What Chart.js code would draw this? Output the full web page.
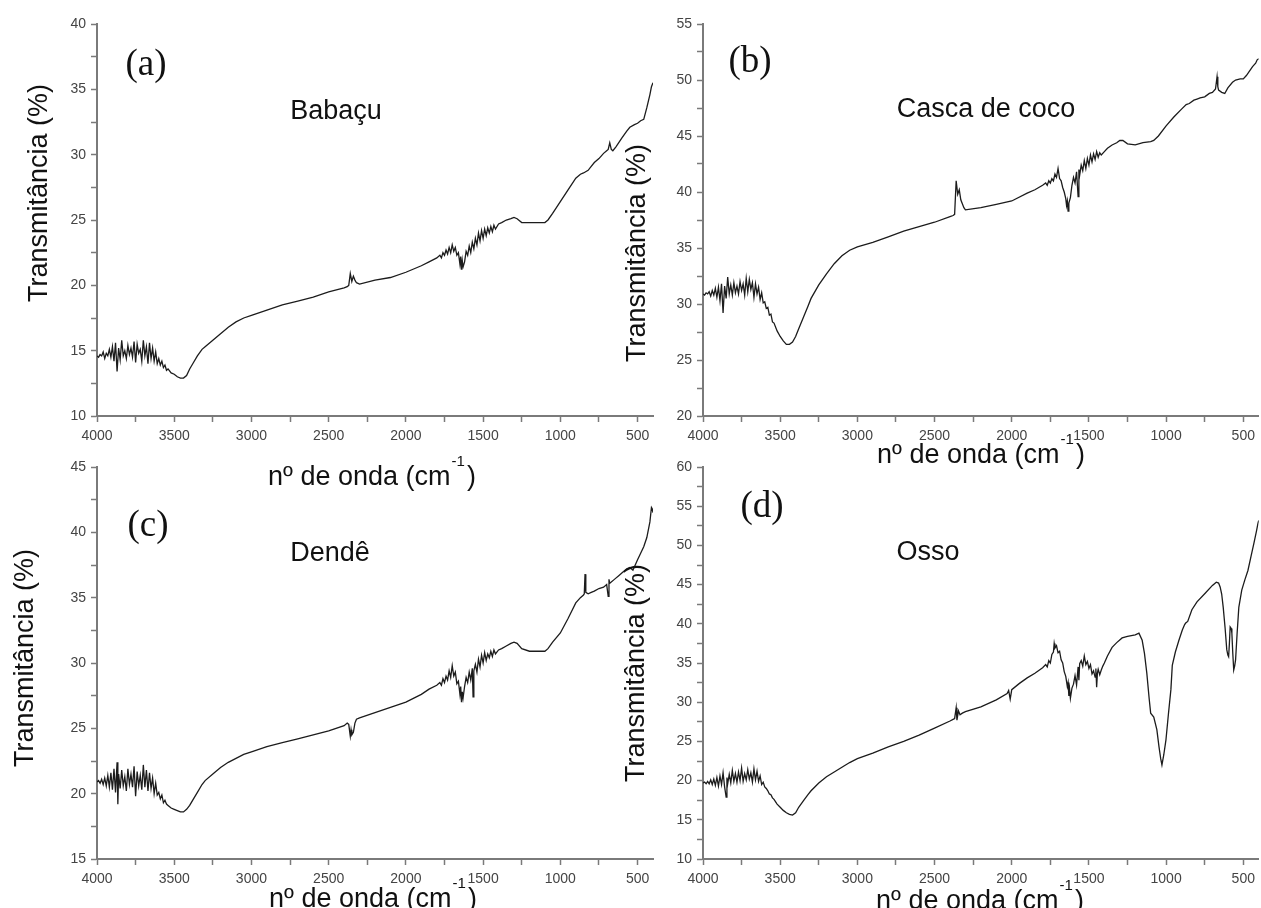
<!DOCTYPE html>
<html>
<head>
<meta charset="utf-8">
<script src="https://cdn.jsdelivr.net/npm/chart.js@4.4.1/dist/chart.umd.min.js"></script>
<style>
  html, body { margin:0; padding:0; background:#fff; }
  body { width:1261px; height:908px; position:relative; overflow:hidden; }
  canvas { position:absolute; }
</style>
</head>
<body>
<canvas id="chartA" width="660" height="500" style="left:0px;top:0px"></canvas>
<canvas id="chartB" width="661" height="500" style="left:600px;top:0px"></canvas>
<canvas id="chartC" width="660" height="468" style="left:0px;top:440px"></canvas>
<canvas id="chartD" width="661" height="468" style="left:600px;top:440px"></canvas>
<script>
// FTIR spectra: [wavenumber cm-1, transmittance %]
const babacu = [
  [4000,14.6],[3990,14.5],[3980,14.7],[3970,14.6],[3960,14.9],[3950,14.4],[3940,14.8],[3930,14.6],[3920,15.1],[3910,14.5],
  [3900,15.3],[3890,14.2],[3880,15.6],[3870,13.4],[3860,15.2],[3850,14.3],[3840,15.8],[3830,14.6],[3820,15.0],[3810,14.4],
  [3800,15.4],[3790,14.7],[3780,15.2],[3770,14.5],[3760,15.7],[3750,14.1],[3740,15.5],[3730,14.8],[3720,15.1],[3710,14.2],
  [3700,15.8],[3690,14.6],[3680,15.3],[3670,14.0],[3660,15.6],[3650,14.4],[3640,15.2],[3630,14.2],[3620,14.9],[3610,14.0],
  [3600,14.4],[3590,13.9],[3580,14.2],[3570,13.7],[3560,13.9],[3550,13.5],[3540,13.6],[3520,13.3],[3500,13.2],[3480,13.0],
  [3460,12.9],[3440,12.9],[3420,13.1],[3400,13.6],[3380,14.0],[3350,14.6],[3320,15.1],[3300,15.3],[3250,15.8],[3200,16.3],
  [3150,16.8],[3100,17.2],[3050,17.5],[3000,17.7],[2900,18.1],[2800,18.5],[2700,18.8],[2600,19.1],[2500,19.5],[2400,19.8],
  [2380,19.9],[2370,20.0],[2360,20.9],[2350,20.3],[2340,20.7],[2330,20.4],[2320,20.2],[2300,20.1],[2200,20.4],[2100,20.6],
  [2000,21.0],[1900,21.5],[1850,21.8],[1800,22.1],[1780,22.3],[1770,22.1],[1760,22.5],[1750,22.3],[1740,22.7],[1730,22.4],
  [1720,22.9],[1710,22.5],[1700,23.1],[1690,22.6],[1680,22.9],[1670,22.3],[1660,22.5],[1650,21.6],[1645,22.2],[1640,21.2],
  [1635,21.9],[1630,21.4],[1620,21.8],[1610,22.6],[1600,22.3],[1590,23.0],[1580,22.5],[1570,23.3],[1560,22.8],[1550,23.6],
  [1540,23.1],[1530,24.0],[1520,23.4],[1510,24.2],[1500,23.6],[1490,24.3],[1480,23.8],[1470,24.4],[1460,24.0],[1450,24.5],
  [1440,24.1],[1430,24.6],[1420,24.3],[1400,24.7],[1380,24.8],[1350,25.0],[1320,25.1],[1300,25.2],[1280,25.1],[1250,24.8],
  [1200,24.8],[1150,24.8],[1100,24.8],[1080,25.0],[1050,25.5],[1000,26.4],[950,27.3],[900,28.2],[870,28.5],[850,28.6],
  [820,28.8],[800,29.1],[780,29.4],[750,29.7],[720,30.1],[700,30.3],[690,30.4],[680,30.9],[670,30.4],[660,30.3],
  [640,30.6],[600,31.3],[570,31.8],[550,32.1],[520,32.3],[500,32.4],[480,32.6],[460,32.7],[440,33.6],[420,34.6],
  [410,35.2],[400,35.5]
];
const cascaCoco = [
  [4000,30.9],[3990,30.8],[3980,31.0],[3970,30.9],[3960,31.1],[3950,30.7],[3940,31.2],[3930,30.8],[3920,31.4],[3910,30.6],
  [3900,31.5],[3890,30.3],[3880,31.8],[3870,29.2],[3860,31.6],[3850,30.5],[3840,32.4],[3830,30.9],[3820,31.7],[3810,30.8],
  [3800,31.9],[3790,31.0],[3780,31.6],[3770,30.9],[3760,32.0],[3750,31.2],[3740,31.8],[3730,30.8],[3720,32.3],[3710,31.1],
  [3700,32.2],[3690,31.3],[3680,31.9],[3670,30.6],[3660,31.8],[3650,30.9],[3640,31.5],[3630,30.4],[3620,31.0],[3610,30.1],
  [3600,30.2],[3590,29.6],[3580,29.7],[3570,29.0],[3560,29.1],[3550,28.4],[3540,28.3],[3520,27.6],[3500,27.1],[3480,26.7],
  [3460,26.4],[3440,26.4],[3420,26.6],[3400,27.1],[3380,27.8],[3350,28.8],[3320,29.8],[3300,30.5],[3250,31.7],[3200,32.7],
  [3150,33.6],[3100,34.3],[3050,34.8],[3000,35.1],[2900,35.5],[2800,36.0],[2700,36.5],[2600,36.9],[2500,37.3],[2400,37.8],
  [2380,37.9],[2370,38.0],[2360,41.0],[2350,39.8],[2340,40.2],[2330,39.3],[2310,38.6],[2300,38.4],[2200,38.6],[2100,38.9],
  [2000,39.2],[1900,39.9],[1850,40.2],[1800,40.6],[1780,40.8],[1770,40.6],[1760,41.0],[1750,40.8],[1740,41.2],[1730,41.0],
  [1720,41.6],[1710,41.3],[1700,42.1],[1690,41.2],[1680,41.0],[1670,40.4],[1660,40.0],[1650,39.4],[1645,38.8],[1640,39.2],
  [1635,38.3],[1630,39.0],[1620,39.5],[1610,40.6],[1600,41.3],[1590,40.8],[1580,41.8],[1570,39.6],[1565,42.0],[1560,41.5],
  [1550,42.4],[1540,41.9],[1530,42.8],[1520,42.1],[1510,43.0],[1500,42.4],[1490,43.3],[1480,42.7],[1470,43.4],[1460,42.9],
  [1450,43.6],[1440,43.1],[1430,43.5],[1420,43.3],[1400,43.6],[1380,43.9],[1350,44.2],[1320,44.4],[1300,44.6],[1280,44.6],
  [1250,44.3],[1200,44.2],[1150,44.4],[1100,44.5],[1080,44.6],[1050,45.0],[1000,45.9],[950,46.7],[900,47.4],[870,47.8],
  [850,47.9],[820,48.2],[800,48.3],[780,48.4],[750,48.5],[720,48.8],[700,48.9],[680,49.2],[670,50.3],[665,49.4],
  [660,49.1],[640,48.9],[620,48.8],[600,49.3],[570,49.8],[550,50.0],[520,50.1],[500,50.1],[480,50.4],[460,50.8],
  [440,51.2],[420,51.5],[410,51.8],[400,51.9]
];
const dende = [
  [4000,20.9],[3990,21.0],[3980,20.8],[3970,21.1],[3960,20.7],[3950,21.2],[3940,20.6],[3930,21.4],[3920,20.5],[3910,21.6],
  [3900,20.3],[3890,21.9],[3880,20.1],[3870,22.4],[3865,19.2],[3860,21.5],[3850,20.4],[3840,21.8],[3830,20.6],[3820,21.3],
  [3810,20.2],[3800,21.9],[3790,20.7],[3780,21.5],[3770,20.5],[3760,22.1],[3750,19.8],[3740,21.7],[3730,20.6],[3720,21.4],
  [3710,20.3],[3700,22.2],[3690,20.5],[3680,21.8],[3670,20.2],[3660,21.6],[3650,20.4],[3640,21.2],[3630,20.0],[3620,20.8],
  [3610,19.9],[3600,20.1],[3590,19.6],[3580,19.9],[3570,19.3],[3560,19.5],[3550,19.2],[3540,19.1],[3520,18.9],[3500,18.8],
  [3480,18.7],[3460,18.6],[3440,18.6],[3420,18.8],[3400,19.1],[3380,19.5],[3350,20.1],[3320,20.7],[3300,21.0],[3250,21.5],
  [3200,22.0],[3150,22.4],[3100,22.7],[3050,23.0],[3000,23.2],[2900,23.6],[2800,23.9],[2700,24.2],[2600,24.5],[2500,24.8],
  [2400,25.2],[2380,25.4],[2370,25.3],[2360,24.4],[2355,24.9],[2350,24.5],[2340,24.7],[2330,25.4],[2320,25.7],[2300,25.8],
  [2200,26.2],[2100,26.6],[2000,27.0],[1900,27.6],[1850,28.0],[1800,28.3],[1780,28.5],[1770,28.3],[1760,28.8],[1750,28.5],
  [1740,29.0],[1730,28.7],[1720,29.4],[1710,28.9],[1700,29.8],[1690,29.0],[1680,29.3],[1670,28.4],[1660,28.6],[1650,27.6],
  [1645,28.2],[1640,27.0],[1635,27.8],[1630,27.3],[1620,28.2],[1610,28.9],[1600,28.5],[1590,29.3],[1580,28.7],[1570,29.6],
  [1565,27.4],[1560,29.4],[1550,29.9],[1540,29.3],[1530,30.3],[1520,29.7],[1510,30.6],[1500,30.0],[1490,30.8],[1480,30.2],
  [1470,30.7],[1460,30.4],[1450,30.9],[1440,30.5],[1430,31.0],[1420,30.7],[1400,31.0],[1380,31.1],[1350,31.3],[1320,31.5],
  [1300,31.6],[1280,31.5],[1250,31.1],[1200,30.9],[1150,30.9],[1100,30.9],[1080,31.1],[1050,31.6],[1000,32.3],[950,33.4],
  [900,34.6],[870,35.0],[850,35.2],[845,35.3],[840,36.8],[835,35.4],[820,35.3],[800,35.4],[780,35.5],[750,35.7],
  [720,35.8],[700,36.0],[690,35.1],[685,36.4],[680,36.1],[650,36.4],[620,36.7],[600,36.9],[570,37.2],[550,37.3],
  [530,37.1],[500,37.9],[480,38.4],[460,38.9],[440,39.6],[420,40.8],[410,41.9],[405,41.8],[400,41.5]
];
const osso = [
  [4000,19.7],[3990,19.8],[3980,19.6],[3970,19.9],[3960,19.6],[3950,20.1],[3940,19.5],[3930,20.2],[3920,19.4],[3910,20.4],
  [3900,19.3],[3890,20.6],[3880,19.5],[3870,21.0],[3860,19.2],[3850,17.9],[3845,20.4],[3840,19.6],[3830,20.8],[3820,19.7],
  [3810,21.3],[3800,19.9],[3790,20.9],[3780,19.8],[3770,21.1],[3760,20.0],[3750,21.6],[3740,19.9],[3730,20.9],[3720,20.1],
  [3710,21.4],[3700,20.2],[3690,21.0],[3680,19.8],[3670,21.5],[3660,20.1],[3650,21.2],[3640,19.9],[3630,20.6],[3620,19.5],
  [3610,19.8],[3600,19.2],[3590,19.0],[3580,18.7],[3570,18.3],[3560,18.2],[3550,17.8],[3540,17.6],[3520,17.0],[3500,16.6],
  [3480,16.2],[3460,15.9],[3440,15.7],[3420,15.6],[3400,15.9],[3380,16.6],[3350,17.4],[3320,18.2],[3300,18.7],[3250,19.7],
  [3200,20.5],[3150,21.1],[3100,21.7],[3050,22.3],[3000,22.8],[2900,23.5],[2800,24.3],[2700,25.0],[2600,25.8],[2500,26.7],
  [2400,27.6],[2380,27.8],[2370,27.9],[2360,29.3],[2355,27.7],[2345,28.9],[2335,28.4],[2320,28.6],[2300,28.8],[2200,29.4],
  [2100,30.3],[2030,31.1],[2020,31.5],[2010,30.4],[2000,31.6],[1950,32.4],[1900,33.1],[1850,33.7],[1800,34.4],[1780,34.8],
  [1770,34.5],[1760,35.3],[1750,35.0],[1740,36.1],[1730,36.4],[1725,37.5],[1720,36.9],[1710,37.2],[1700,36.3],[1690,36.5],
  [1680,35.4],[1670,35.0],[1660,33.9],[1650,33.3],[1640,32.0],[1635,32.5],[1630,30.8],[1625,31.6],[1620,30.5],[1610,31.8],
  [1600,32.3],[1590,33.4],[1580,32.2],[1570,34.5],[1565,32.8],[1560,34.9],[1550,35.3],[1540,34.6],[1530,35.9],[1520,34.8],
  [1510,35.2],[1500,34.3],[1490,34.8],[1480,33.6],[1470,34.0],[1460,33.2],[1455,34.3],[1450,31.9],[1445,33.7],[1440,34.2],
  [1430,33.5],[1420,34.1],[1410,34.6],[1400,35.0],[1380,35.9],[1350,37.0],[1320,37.6],[1285,38.2],[1250,38.4],[1200,38.6],
  [1176,38.8],[1155,37.9],[1140,36.2],[1125,33.7],[1110,30.5],[1100,28.6],[1080,28.1],[1060,26.5],[1046,24.3],[1035,22.8],
  [1027,22.0],[1015,23.3],[1001,25.2],[985,28.5],[969,31.6],[960,34.7],[940,36.4],[917,37.9],[895,39.2],[880,39.9],
  [873,40.1],[860,40.3],[833,41.8],[800,42.8],[747,43.9],[700,44.9],[675,45.3],[660,45.2],[650,44.7],[640,43.8],
  [630,42.1],[618,39.5],[607,36.7],[600,36.0],[595,35.8],[590,37.5],[585,39.6],[578,39.4],[574,38.8],[568,36.2],
  [562,34.1],[556,34.6],[550,35.4],[540,38.8],[529,42.1],[510,44.3],[490,45.6],[470,46.8],[450,48.6],[430,50.4],
  [415,51.8],[405,52.8],[400,53.2]
];

const waveRange = [4000, 400];
const yRanges = { a:[10,40], b:[20,55], c:[15,45], d:[10,60] };
const sampleNames = { a:'Babaçu', b:'Casca de coco', c:'Dendê', d:'Osso' };
const yTitle = 'Transmitância (%)';
const xTitle = 'nº de onda (cm';

// layout: canvas offset in page, chart area edges, text centres (page px)
const panels = [
  { key:'a', id:'chartA', spec:babacu, left:0, top:0, w:660, h:500,
    area:{l:97, t:24, r:653, b:416},
    letter:[146,65], name:[336,112], yT:[40,193], xT:[372,478] },
  { key:'b', id:'chartB', spec:cascaCoco, left:600, top:0, w:661, h:500,
    area:{l:703, t:24, r:1260, b:416},
    letter:[750,62], name:[986,110], yT:[638,253], xT:[981,456] },
  { key:'c', id:'chartC', spec:dende, left:0, top:440, w:660, h:468,
    area:{l:97, t:467, r:653, b:859},
    letter:[148,526], name:[330,554], yT:[26,658], xT:[373,900] },
  { key:'d', id:'chartD', spec:osso, left:600, top:440, w:661, h:468,
    area:{l:703, t:467, r:1260, b:859},
    letter:[762,507], name:[928,553], yT:[637,673], xT:[980,902] }
];

const SANS = "'Liberation Sans', Arial, sans-serif";
const AXIS = '#7a7a7a';

const panelText = {
  id:'panelText',
  afterDraw(chart){
    const p = chart.options.plugins.panelText;
    const ctx = chart.ctx;
    const ox = p.left, oy = p.top;
    ctx.save();
    ctx.fillStyle = '#111';
    ctx.textBaseline = 'middle';
    ctx.textAlign = 'center';

    ctx.font = "37px 'Liberation Serif', 'Times New Roman', serif";
    ctx.fillText('(' + p.key + ')', p.letter[0]-ox, p.letter[1]-oy);

    ctx.font = '27px ' + SANS;
    ctx.fillText(sampleNames[p.key], p.name[0]-ox, p.name[1]-oy);

    ctx.save();
    ctx.translate(p.yT[0]-ox, p.yT[1]-oy);
    ctx.rotate(-Math.PI/2);
    ctx.font = '27px ' + SANS;
    ctx.fillText(yTitle, 0, 0);
    ctx.restore();

    // x title with superscript -1
    ctx.font = '27px ' + SANS;
    const w1 = ctx.measureText(xTitle).width;
    const w3 = ctx.measureText(')').width;
    ctx.font = '15px ' + SANS;
    const w2 = ctx.measureText('-1').width;
    const x0 = p.xT[0]-ox - (w1+w2+w3+3)/2, y0 = p.xT[1]-oy;
    ctx.textAlign = 'left';
    ctx.font = '27px ' + SANS;
    ctx.fillText(xTitle, x0, y0);
    ctx.fillText(')', x0+w1+w2+3, y0);
    ctx.font = '15px ' + SANS;
    ctx.fillText('-1', x0+w1+1, y0-16);
    ctx.restore();
  }
};

function makeChart(p){
  const a = p.area;
  const yr = yRanges[p.key];
  new Chart(document.getElementById(p.id), {
    type:'line',
    data:{ datasets:[{
      data:p.spec.map(d => ({x:d[0], y:d[1]})),
      borderColor:'#1c1c1c',
      borderWidth:1.3,
      pointRadius:0,
      tension:0,
      fill:false
    }]},
    options:{
      responsive:false, animation:false, events:[],
      layout:{ padding:{ left:0, top:a.t-p.top, right:p.left+p.w-a.r, bottom:0 } },
      plugins:{ legend:{display:false}, tooltip:{enabled:false}, panelText:p },
      scales:{
        x:{
          type:'linear', reverse:true, min:waveRange[1], max:waveRange[0],
          afterFit:s => { s.height = p.top+p.h-a.b; },
          border:{ color:AXIS, width:2 },
          grid:{ drawOnChartArea:false, tickLength:6, color:AXIS, tickWidth:1.5 },
          ticks:{ stepSize:250, includeBounds:false, autoSkip:false, maxRotation:0, padding:6,
                  color:'#444', font:{family:SANS, size:14},
                  callback:v => v % 500 === 0 ? String(v) : '' }
        },
        y:{
          min:yr[0], max:yr[1],
          afterFit:s => { s.width = a.l-p.left; },
          border:{ color:AXIS, width:2 },
          grid:{ drawOnChartArea:false, tickLength:6, color:AXIS, tickWidth:1.5 },
          ticks:{ stepSize:2.5, autoSkip:false, padding:5,
                  color:'#444', font:{family:SANS, size:14},
                  callback:v => v % 5 === 0 ? String(v) : '' }
        }
      }
    },
    plugins:[panelText]
  });
}

panels.forEach(makeChart);
</script>
</body>
</html>
